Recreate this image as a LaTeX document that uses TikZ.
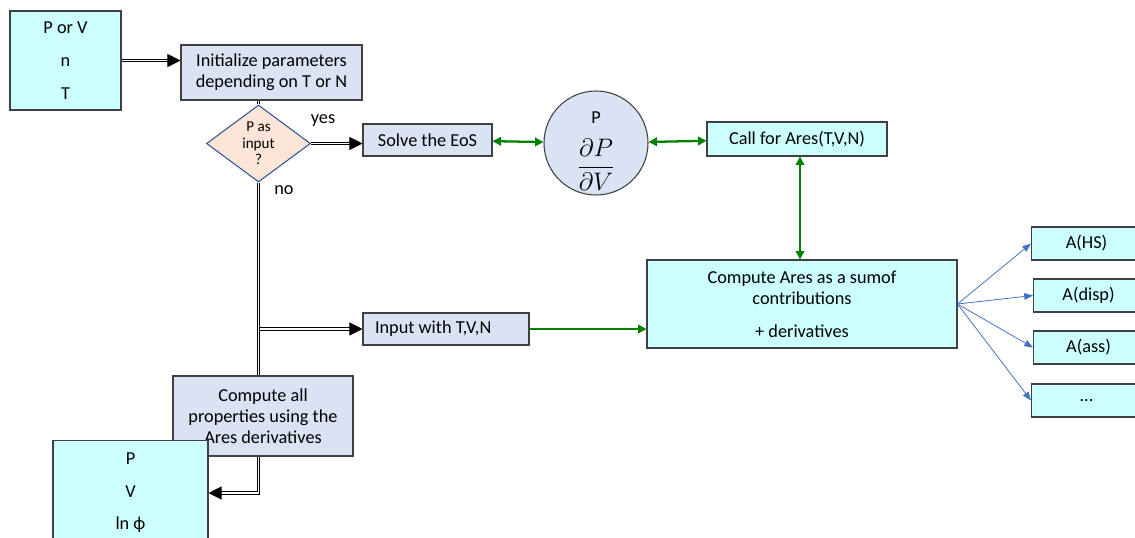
\documentclass[tikz,border=0pt]{standalone}
\usepackage{fontspec}
\setmainfont{Carlito}
\usepackage{amsmath}
\usepackage{tikz}
\usetikzlibrary{arrows.meta,shapes.geometric,calc}
\definecolor{boxcyan}{HTML}{CCFFFF}
\definecolor{boxlav}{HTML}{DAE3F3}
\definecolor{boxline}{HTML}{404040}
\definecolor{askfill}{HTML}{FBE5D6}
\definecolor{askline}{HTML}{2F5597}
\definecolor{flowgreen}{HTML}{008000}
\definecolor{fanblue}{HTML}{4472C4}
\tikzset{
  box/.style={draw=boxline,line width=0.6pt,align=center,inner sep=2pt,
              font=\fontsize{10.4}{12}\selectfont},
  inout/.style={box,fill=boxcyan},                 % data in / out
  proc/.style={box,fill=boxlav},                   % processing step
  ask/.style={diamond,draw=askline,fill=askfill,line width=0.6pt,align=center,
              inner sep=0pt,font=\fontsize{8.6}{9.4}\selectfont},
  dbl/.style={double,double distance=1.1pt,line width=0.55pt,
              -{Triangle[length=7.5pt,width=7.5pt]}},  % main flow
  gar/.style={{Triangle[length=4.8pt,width=4.8pt]}-{Triangle[length=4.8pt,width=4.8pt]},
              line width=1.3pt,draw=flowgreen},
  bar/.style={-{Triangle[length=5pt,width=3.8pt]},line width=0.45pt,draw=fanblue},
  lbl/.style={font=\fontsize{10.4}{12}\selectfont,inner sep=1pt}
}

\begin{document}
\begin{tikzpicture}
  \useasboundingbox (0,0) rectangle (22.7,-10.74);
  \node[inout,minimum width=2.22cm,minimum height=1.98cm] (given) at (1.31,-1.21)
    {P or V\\[6.7pt]n\\[6.7pt]T};
  \node[proc,minimum width=3.62cm,minimum height=1.10cm] (init) at (5.43,-1.45)
    {Initialize parameters\\depending on T or N};
  \node[ask,minimum width=2.08cm,minimum height=1.54cm] (pin) at (5.17,-2.87)
    {P as\\input\\?};
  \node[proc,minimum width=2.58cm,minimum height=0.64cm] (solve) at (8.55,-2.80)
    {Solve the EoS};
  \node[circle,draw=boxline,fill=boxlav,line width=0.6pt,minimum size=2.08cm,
    inner sep=0pt,font=\fontsize{10.4}{12}\selectfont] (pres) at (11.92,-2.86)
    {\smash{\raisebox{-6.5pt}{\begin{tabular}{@{}c@{}}P\\[5pt]
     \fontsize{15}{17}\selectfont$\displaystyle\frac{\partial P}{\partial V}$\end{tabular}}}};
  \node[inout,minimum width=3.60cm,minimum height=0.68cm] (call) at (15.94,-2.78)
    {Call for Ares(T,V,N)};
  \node[inout,minimum width=6.20cm,minimum height=1.76cm] (ares) at (16.04,-6.08)
    {Compute Ares as a sumof\\contributions\\[6.8pt]+ derivatives};
  \node[proc,minimum width=3.32cm,minimum height=0.64cm,inner xsep=0.24cm,
    text width=2.84cm,align=flush left] (inp) at (8.92,-6.58)
    {Input with T,V,N};
  \node[proc,minimum width=3.60cm,minimum height=1.60cm] (props) at (5.26,-8.32)
    {Compute all\\properties using the\\Ares derivatives};
  \node[inout,minimum width=3.10cm,minimum height=2.10cm] (result) at (2.61,-9.86)
    {P\\[6.5pt]V\\[6.5pt]ln ϕ};

  \node[inout,anchor=west,minimum width=2.20cm,minimum height=0.66cm] (hs) at (20.62,-4.87) {A(HS)};
  \node[inout,anchor=west,minimum width=2.20cm,minimum height=0.66cm] (disp) at (20.66,-5.91) {A(disp)};
  \node[inout,anchor=west,minimum width=2.20cm,minimum height=0.66cm] (ass) at (20.66,-6.95) {A(ass)};
  \node[inout,anchor=west,minimum width=2.20cm,minimum height=0.66cm] (more) at (20.62,-8.01) {...};

  \node[lbl] (yes) at (6.46,-2.42) {yes};
  \node[lbl] (no) at (5.68,-3.80) {no};

  \draw[dbl] (given.east) -- (given.east -| init.west);
  \draw[dbl,-] (pin.north |- init.south) -- (pin.north);
  \draw[dbl] (pin.east) -- (pin.east -| solve.west);
  \coordinate (fork) at (pin.south |- inp.west);
  \draw[dbl] (fork) -- (inp.west);
  \draw[dbl,-] (pin.south) -- (pin.south |- props.north);
  \draw[dbl] (pin.south |- props.south) -- (pin.south |- result.east) -- (result.east);

  \draw[gar] (solve) -- (pres);
  \draw[gar] (pres) -- (call);
  \draw[gar] (call.south -| 16.0,0) -- (ares.north -| 16.0,0);
  \draw[gar,-{Triangle[length=4.8pt,width=4.8pt]}] (inp) -- (ares.west |- inp.east);

  \draw[bar] (ares.east) -- (hs.west);
  \draw[bar] (ares.east) -- (disp.west);
  \draw[bar] (ares.east) -- (ass.west);
  \draw[bar] (ares.east) -- (more.west);
\end{tikzpicture}
\end{document}
